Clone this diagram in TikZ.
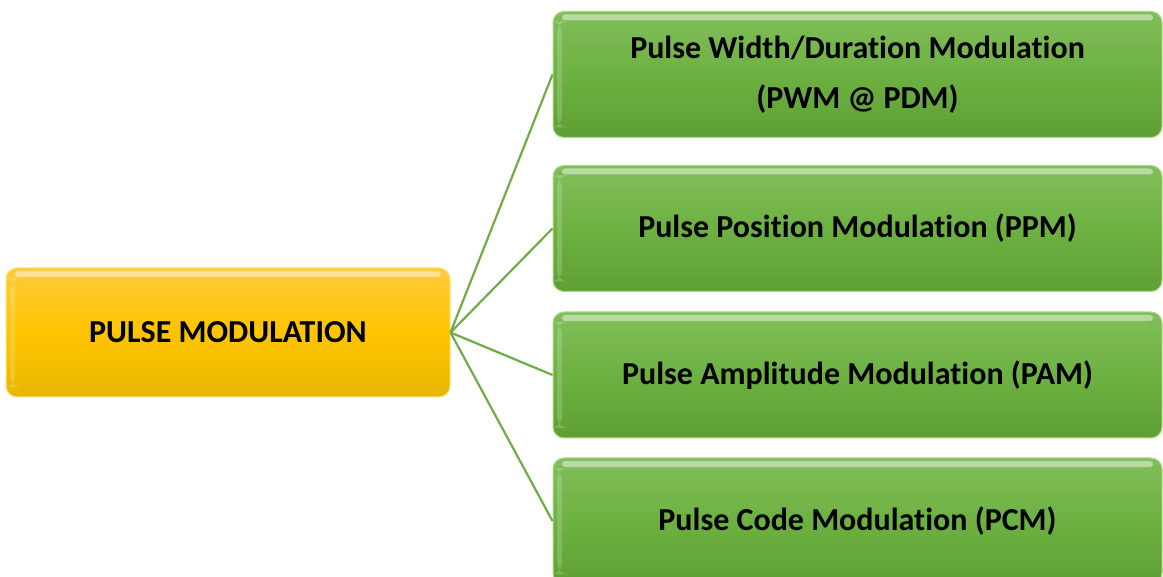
\documentclass[tikz,border=0pt]{standalone}
\usepackage{fontspec}
\setmainfont[Ligatures=NoCommon]{Carlito}
\usetikzlibrary{positioning}

\definecolor{goldtop}{HTML}{FFCB3A}
\definecolor{goldmid}{HTML}{FFC400}
\definecolor{goldbot}{HTML}{E8B700}
\definecolor{goldedge}{HTML}{FFE27A}
\definecolor{leaftop}{HTML}{82BE5A}
\definecolor{leafmid}{HTML}{6DB142}
\definecolor{leafbot}{HTML}{5E9F34}
\definecolor{leafedge}{HTML}{A9D88A}
\definecolor{linkgreen}{HTML}{70AD47}

\tikzset{
  x=1pt, y=-1pt,
  glossbox/.style={
    rounded corners=11pt, inner sep=0pt, align=center,
    font=\fontsize{32}{50}\selectfont\bfseries,
    path picture={
      \fill[white, opacity=0.45, rounded corners=3pt]
        ([xshift=9pt,yshift=-3pt]path picture bounding box.north west)
        rectangle ([xshift=-9pt,yshift=-9pt]path picture bounding box.north east);
      \fill[white, opacity=0.18]
        ([xshift=4pt,yshift=-10pt]path picture bounding box.north west)
        rectangle ([xshift=9pt,yshift=10pt]path picture bounding box.south west);
    }
  },
  rootbox/.style={glossbox, draw=goldedge, line width=1pt,
    top color=goldtop, bottom color=goldbot, middle color=goldmid,
    minimum width=444pt, minimum height=129pt},
  leafbox/.style={glossbox, draw=leafedge, line width=1pt,
    top color=leaftop, bottom color=leafbot, middle color=leafmid,
    minimum width=609pt, minimum height=126pt},
  link/.style={draw=linkgreen, line width=2.2pt}
}

\begin{document}
\begin{tikzpicture}
\useasboundingbox (0,0) rectangle (1163,577);

\node[rootbox] (root) at (228,332.5) {PULSE MODULATION};

\node[leafbox] (pwm) at (857.5,74.5) {Pulse Width/Duration Modulation\\(PWM @ PDM)};
\node[leafbox] (ppm) at (857.5,228.5) {Pulse Position Modulation (PPM)};
\node[leafbox] (pam) at (857.5,375) {Pulse Amplitude Modulation (PAM)};
\node[leafbox] (pcm) at (857.5,521) {Pulse Code Modulation (PCM)};

\foreach \leaf in {pwm,ppm,pam,pcm}
  \draw[link] (root.east) -- (\leaf.west);
\end{tikzpicture}
\end{document}
